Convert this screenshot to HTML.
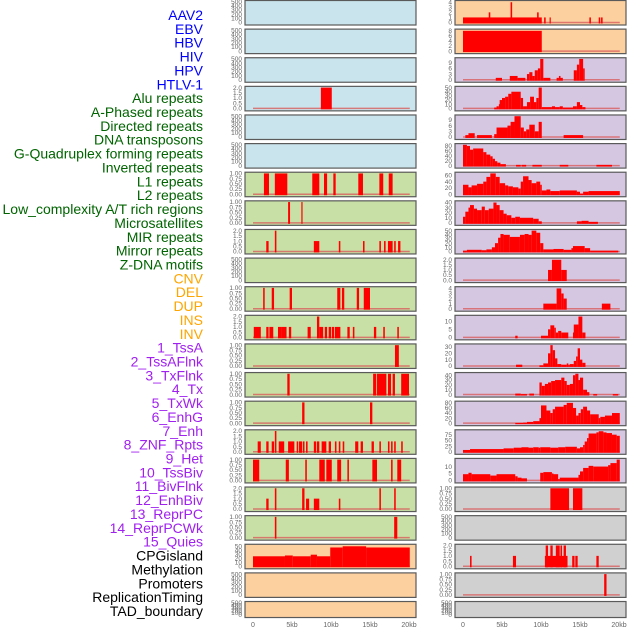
<!DOCTYPE html>
<html><head><meta charset="utf-8"><style>
html,body{margin:0;padding:0;background:#fff;width:630px;height:630px;overflow:hidden}
svg{display:block}
</style></head><body>
<svg id="chart" width="630" height="630" viewBox="0 0 630 630" xmlns="http://www.w3.org/2000/svg" font-family="Liberation Sans, sans-serif">
<g id="labels"></g>
<g id="panels"></g>
</svg>
<script>
// ---------- data ----------
const labelNames = ["AAV2","EBV","HBV","HIV","HPV","HTLV-1","Alu repeats","A-Phased repeats","Directed repeats","DNA transposons","G-Quadruplex forming repeats","Inverted repeats","L1 repeats","L2 repeats","Low_complexity A/T rich regions","Microsatellites","MIR repeats","Mirror repeats","Z-DNA motifs","CNV","DEL","DUP","INS","INV","1_TssA","2_TssAFlnk","3_TxFlnk","4_Tx","5_TxWk","6_EnhG","7_Enh","8_ZNF_Rpts","9_Het","10_TssBiv","11_BivFlnk","12_EnhBiv","13_ReprPC","14_ReprPCWk","15_Quies","CPGisland","Methylation","Promoters","ReplicationTiming","TAD_boundary"];
const labelGroups = [6,13,5,15,5];
const groupColors = ["#0000ff","#006400","#ffa500","#a020f0","#000000"];
const xTicks = [0,5,10,15,20];
const xTickLabels = ["0","5kb","10kb","15kb","20kb"];
const ticksEmpty = [0,100,200,300,400,500];
const ticksBin = [0,0.25,0.5,0.75,1];
const ticksTwo = [0,0.5,1,1.5,2];

// segments: [startKb, endKb, value]
const hiv = [[8.7,10.1,2]];
const alu = [[1.4,2.05,1],[2.8,4.4,1],[7.6,8.5,1],[9.1,9.5,1],[10.3,10.6,1],[13.5,14.1,1],[16.2,16.7,1],[17.4,17.9,1]];
const aphased = [[4.5,4.75,1],[6.2,6.35,1]];
const directed = [[1.7,2.0,1],[2.8,3.0,2],[7.8,8.5,1],[11.0,11.2,1],[14.1,14.3,1],[16.2,16.4,1],[16.8,17.0,1],[17.3,17.9,1],[18.1,18.3,1],[18.6,18.9,1]];
const gquad = [[1.3,1.5,1],[2.4,2.7,1],[4.7,5.0,1],[10.8,11.2,1],[11.4,11.7,1],[13.3,13.6,1],[14.2,15.0,1]];
const inverted = [[0.1,1.0,1],[1.7,2.0,1],[2.1,2.6,1],[3.2,3.6,1],[3.6,4.3,1],[4.6,4.9,1],[7.0,7.4,1],[8.2,8.5,2],[8.5,9.0,1],[9.2,9.5,1],[9.7,10.0,1],[10.1,10.4,1],[10.5,11.2,1],[12.1,12.4,1],[12.8,13.0,1],[15.5,15.8,1],[16.7,16.9,1],[18.5,18.7,1]];
const l1 = [[18.2,18.7,1]];
const l2 = [[4.4,4.7,1],[15.4,15.8,1],[15.9,17.1,1],[17.3,17.7,1],[17.9,18.2,1],[19.0,20.0,1]];
const lowcomp = [[6.3,6.6,1],[15.0,15.3,1]];
const microsat = [[0.6,1.0,1],[1.7,2.0,1],[2.4,2.7,1],[2.8,3.0,2],[3.3,4.0,1],[4.5,5.3,1],[5.6,5.8,1],[5.9,6.3,1],[6.4,6.6,1],[6.8,7.0,1],[7.8,8.1,1],[8.2,8.5,1],[8.8,9.4,1],[9.7,10.0,1],[10.5,10.7,1],[11.0,11.2,1],[11.5,11.7,1],[13.1,13.5,1],[13.8,14.1,1],[15.2,15.5,1],[16.2,16.4,1],[17.3,17.5,1],[17.7,17.9,1],[18.1,18.3,1],[19.0,19.2,1]];
const mir = [[0,0.8,1],[4.2,4.6,1],[6.7,6.9,1],[8.5,9.2,1],[9.4,10.1,1],[10.8,11.3,1],[12.1,12.3,1],[15.3,15.9,1],[17.7,17.9,1],[18.5,19.0,1]];
const mirror = [[1.7,2.0,1],[2.8,3.0,2],[6.3,6.6,2],[6.8,7.2,1],[7.8,8.5,1],[11.0,11.2,1],[16.2,16.4,2],[18.1,18.3,2]];
const zdna = [[2.8,3.0,1],[18.1,18.5,1]];
const cnv = [[0,4.1,25],[4.1,5.1,27],[5.1,7.4,25],[7.4,8.2,29],[8.2,9.9,25],[9.9,11.5,47],[11.5,14.5,50],[14.5,20.1,47]];
const ins = [[0,10.1,1],[3.3,3.5,2],[6.1,6.3,4],[9.5,9.7,2],[10.4,10.6,1],[11.1,11.2,1],[16.2,16.4,1],[17.4,17.6,1],[17.7,17.9,1]];
const inv = [[0,10.1,8]];
const tssA = [[4.2,5.0,1],[6.0,7.0,2],[7.0,8.0,1],[8.2,8.5,3],[8.5,8.9,4],[8.9,9.2,2],[9.2,9.6,5],[9.6,9.9,6],[9.9,10.3,11],[10.3,11.2,1],[12.0,12.3,1],[12.3,12.5,2],[12.5,12.8,1],[14.2,14.6,5],[14.6,14.9,8],[14.9,15.4,11],[15.4,15.6,6]];
const tssAFlnk = [[4.0,4.3,2],[4.3,4.6,5],[4.6,4.7,10],[4.7,5.0,20],[5.0,5.4,25],[5.4,5.8,28],[5.8,6.2,35],[6.2,7.4,40],[7.4,7.7,25],[7.7,8.2,5],[8.2,8.6,15],[8.6,9.1,28],[9.1,9.4,15],[9.4,9.7,25],[9.7,10.1,50],[10.1,11.4,3],[11.4,11.8,5],[11.8,12.4,3],[12.4,12.8,5],[12.8,14.1,2],[14.1,14.6,5],[14.6,15.0,15],[15.0,15.3,8],[15.3,15.7,3]];
const txFlnk = [[0.3,0.7,1],[0.7,1.5,2],[1.8,3.7,1],[4.0,4.3,1.5],[4.3,5.7,5],[5.7,6.1,6],[6.1,6.6,8],[6.6,7.4,11],[7.4,7.8,5],[7.8,8.1,3],[8.1,8.5,4],[8.5,9.2,6.5],[9.2,9.7,3],[9.7,10.1,8],[12.9,15.4,1]];
const tx = [[0,0.5,85],[0.5,0.9,80],[0.9,1.3,65],[1.3,2.6,70],[2.6,3.0,55],[3.0,3.5,45],[3.5,3.8,38],[3.8,4.1,28],[4.1,4.4,18],[4.4,4.8,12],[4.8,5.5,6],[6.8,7.4,3],[7.5,8.1,3],[8.9,10.1,3],[12.4,13.5,3],[17.1,19.1,3]];
const txWk = [[0,0.7,30],[0.7,1.1,22],[1.1,1.8,28],[1.8,2.6,33],[2.6,3.0,40],[3.0,3.5,55],[3.5,4.2,66],[4.2,4.7,55],[4.7,5.4,35],[5.4,5.8,28],[5.8,6.4,25],[6.4,7.1,22],[7.1,7.4,18],[7.4,7.7,40],[7.7,8.4,57],[8.4,8.8,45],[8.8,9.4,35],[9.4,9.9,40],[9.9,10.1,30],[10.1,10.7,12],[10.7,11.2,15],[11.2,12.4,10],[12.4,14.6,12],[14.6,15.0,8],[15.0,15.4,2],[15.4,16.1,8],[16.1,20.1,10]];
const enhG = [[0,0.3,12],[0.3,0.7,22],[0.7,0.9,30],[0.9,1.4,35],[1.4,1.8,28],[1.8,2.4,25],[2.4,2.8,32],[2.8,3.3,25],[3.3,3.9,28],[3.9,4.3,40],[4.3,4.7,35],[4.7,5.2,25],[5.2,5.6,18],[5.6,6.2,15],[6.2,6.7,10],[6.7,7.3,12],[7.3,9.0,10],[9.0,9.7,8],[9.7,10.1,3],[14.6,15.2,3],[15.2,16.1,4],[16.1,17.3,2]];
const enh = [[0,0.5,2],[0.5,2.4,4],[2.4,3.0,3],[3.0,3.7,5],[3.7,4.1,10],[4.1,4.5,20],[4.5,4.8,33],[4.8,5.2,42],[5.2,6.0,40],[6.0,7.3,35],[7.3,7.9,40],[7.9,8.4,42],[8.4,8.8,40],[8.8,9.4,50],[9.4,9.9,45],[9.9,10.3,20],[10.3,11.6,5],[11.6,12.9,6],[12.9,13.9,4],[13.9,14.1,8],[14.1,15.6,13],[15.6,16.3,8],[16.3,19.9,2]];
const znf = [[10.9,11.4,1],[11.4,12.6,2],[12.6,13.3,1]];
const het = [[10.3,12.0,1],[12.0,12.6,4],[12.6,12.9,3],[12.9,13.3,2],[17.8,18.9,1]];
const tssBiv = [[6.7,7.0,1],[10.0,10.9,1],[10.9,11.2,5],[11.2,11.7,7.5],[11.7,11.9,6],[11.9,12.2,3],[12.2,12.6,4],[12.6,13.5,3],[14.1,14.2,3],[14.2,14.8,8],[14.8,15.3,13],[15.3,15.7,3]];
const bivFlnk = [[6.8,7.6,2],[9.8,10.3,1],[10.3,10.9,4],[10.9,11.2,20],[11.2,11.5,33],[11.5,11.8,25],[11.8,12.1,12],[12.1,12.6,3],[12.6,13.3,2],[13.3,13.5,4],[13.5,13.7,2],[13.7,14.2,3],[14.2,14.5,8],[14.5,14.7,15],[14.7,15.0,28],[15.0,15.3,10],[15.3,15.7,5]];
const enhBiv = [[6.7,7.4,2],[7.4,8.2,1],[8.5,9.1,2],[9.8,10.1,25],[10.1,10.5,18],[10.5,10.9,22],[10.9,11.3,25],[11.3,11.8,28],[11.8,12.6,30],[12.6,13.0,35],[13.0,13.3,28],[13.3,13.7,20],[13.7,14.1,22],[14.1,14.4,40],[14.4,14.8,43],[14.8,15.0,30],[15.0,15.4,35],[15.4,15.9,10],[15.9,16.2,5],[16.7,17.2,1],[19.2,19.9,1]];
const reprPC = [[6.7,7.7,1],[7.7,8.2,2],[8.2,9.0,5],[9.0,9.8,8],[9.8,10.0,20],[10.0,10.7,70],[10.7,11.2,50],[11.2,11.5,40],[11.5,11.8,55],[11.8,12.9,65],[12.9,13.3,72],[13.3,14.1,80],[14.1,14.5,60],[14.5,14.8,30],[14.8,15.1,40],[15.1,15.4,55],[15.4,15.9,65],[15.9,16.3,50],[16.3,17.4,35],[17.4,17.6,20],[17.6,18.2,25],[18.2,19.1,30],[19.1,20.1,40]];
const reprPCWk = [[0,0.9,8],[0.9,5.2,12],[5.2,6.5,15],[6.5,7.5,18],[7.5,8.4,20],[8.4,9.0,18],[9.0,9.7,20],[9.7,9.9,18],[9.9,11.2,20],[11.2,12.2,18],[12.2,13.1,20],[13.1,14.6,22],[14.6,15.0,15],[15.0,15.4,20],[15.4,15.6,30],[15.6,15.9,45],[15.9,16.1,60],[16.1,17.1,80],[17.1,17.4,85],[17.4,18.0,90],[18.0,18.4,85],[18.4,19.1,82],[19.1,19.7,75],[19.7,20.1,70]];
const quies = [[0,0.7,4.5],[0.7,1.1,5.5],[1.1,3.5,4.5],[3.5,4.3,3.5],[4.3,6.7,4.5],[6.7,7.0,3],[7.0,7.5,2],[7.5,8.2,1.5],[9.9,10.3,5.5],[10.3,11.4,6],[11.4,11.6,5],[11.6,12.2,4.5],[12.2,12.4,1],[12.4,14.8,2],[14.8,15.0,4],[15.0,15.4,6.5],[15.4,16.1,9],[16.1,16.7,10.5],[16.7,18.6,10],[18.6,18.9,11],[18.9,19.7,12.5],[19.7,20.1,15]];
const cpg = [[11.2,13.6,1],[14.1,15.3,1]];
const promoters = [[0.9,1.1,1],[6.4,6.8,1],[10.5,13.4,1],[10.6,10.9,2],[11.2,11.5,2],[11.9,12.4,2],[12.5,12.7,2],[12.9,13.2,2],[14.0,14.3,1],[14.4,14.7,1],[17.1,17.4,1]];
const replication = [[18.1,18.4,1]];

// panel definitions: [name, column, row, bgKey, ymax, ticks, segments]
const panelDefs = [
 ["AAV2",0,0,"blue",500,ticksEmpty,null],["EBV",0,1,"blue",500,ticksEmpty,null],["HBV",0,2,"blue",500,ticksEmpty,null],
 ["HIV",0,3,"blue",2,ticksTwo,hiv],["HPV",0,4,"blue",500,ticksEmpty,null],["HTLV-1",0,5,"blue",500,ticksEmpty,null],
 ["Alu",0,6,"green",1,ticksBin,alu],["A-Phased",0,7,"green",1,ticksBin,aphased],["Directed",0,8,"green",2,ticksTwo,directed],
 ["DNA-transposons",0,9,"green",500,ticksEmpty,null],["G-Quadruplex",0,10,"green",1,ticksBin,gquad],["Inverted",0,11,"green",2,ticksTwo,inverted],
 ["L1",0,12,"green",1,ticksBin,l1],["L2",0,13,"green",1,ticksBin,l2],["Low-complexity",0,14,"green",1,ticksBin,lowcomp],
 ["Microsatellites",0,15,"green",2,ticksTwo,microsat],["MIR",0,16,"green",1,ticksBin,mir],["Mirror",0,17,"green",2,ticksTwo,mirror],
 ["Z-DNA",0,18,"green",1,ticksBin,zdna],["CNV",0,19,"orange",52,[0,10,20,30,40,50],cnv],["DEL",0,20,"orange",500,ticksEmpty,null],["DUP",0,21,"orange",500,ticksEmpty,null],
 ["INS",1,0,"orange",4.1,[0,1,2,3,4],ins],["INV",1,1,"orange",8.2,[0,2,4,6,8],inv],
 ["1-TssA",1,2,"purple",11,[0,3,6,9],tssA],["2-TssAFlnk",1,3,"purple",50,[0,10,20,30,40,50],tssAFlnk],["3-TxFlnk",1,4,"purple",11,[0,3,6,9],txFlnk],
 ["4-Tx",1,5,"purple",85,[0,20,40,60,80],tx],["5-TxWk",1,6,"purple",66,[0,20,40,60],txWk],["6-EnhG",1,7,"purple",41,[0,10,20,30,40],enhG],
 ["7-Enh",1,8,"purple",50,[0,10,20,30,40,50],enh],["8-ZNF-Rpts",1,9,"purple",2.05,ticksTwo,znf],["9-Het",1,10,"purple",4.1,[0,1,2,3,4],het],
 ["10-TssBiv",1,11,"purple",13,[0,5,10],tssBiv],["11-BivFlnk",1,12,"purple",33,[0,10,20,30],bivFlnk],["12-EnhBiv",1,13,"purple",43,[0,10,20,30,40],enhBiv],
 ["13-ReprPC",1,14,"purple",82,[0,20,40,60,80],reprPC],["14-ReprPCWk",1,15,"purple",91,[0,25,50,75],reprPCWk],["15-Quies",1,16,"purple",15,[0,5,10],quies],
 ["CPGisland",1,17,"grey",1,ticksBin,cpg],["Methylation",1,18,"grey",500,ticksEmpty,null],["Promoters",1,19,"grey",2,ticksTwo,promoters],
 ["ReplicationTiming",1,20,"grey",1,ticksBin,replication],["TAD-boundary",1,21,"grey",500,ticksEmpty,null]
];

// ---------- rendering ----------
const NS = "http://www.w3.org/2000/svg";
const bgColors = {blue:"#c9e4ec",green:"#c8e0a5",orange:"#fdd09f",purple:"#d5c7e2",grey:"#d0d0d0"};
const colLeft = [245,455];
const panelW = 171;
const rowStep = 28.62;
function xScale(col, kb){ return colLeft[col] + 8 + kb*7.8; }
function rowTop(r){ return r*rowStep + 0.5; }
function rowH(r){ return r===21 ? 16 : 24.5; }
function yScale(r, ymax, v){ const t=rowTop(r), h=rowH(r); const y0=t+h-2.5, y1=t+1.2; return y0-(v/ymax)*(y0-y1); }
function mk(tag, attrs, parent){ const e=document.createElementNS(NS,tag); for(const k in attrs) e.setAttribute(k,attrs[k]); parent.appendChild(e); return e; }

const labelsG = document.getElementById('labels');
let li = 0;
labelGroups.forEach((n,gi)=>{
  for(let k=0;k<n;k++){
    const t = mk('text',{x:203,y:(15+li*13.86+5).toFixed(1),'text-anchor':'end','font-size':'14',fill:groupColors[gi]},labelsG);
    t.textContent = labelNames[li];
    
    
    li++;
  }
});

const panelsG = document.getElementById('panels');
panelDefs.forEach(d=>{
  const [name,col,row,bg,ymax,ticks,segs] = d;
  const g = mk('g',{},panelsG);
  
  
  const top=rowTop(row), h=rowH(row), left=colLeft[col];
  const rect = mk('rect',{x:left,y:top,width:panelW,height:h,fill:bgColors[bg],stroke:'none'},g);
  
  
  if(segs){
    const base = mk('line',{x1:xScale(col,0),x2:xScale(col,20.1),y1:yScale(row,ymax,0),y2:yScale(row,ymax,0),stroke:'#d96060','stroke-width':1.5,opacity:0.8},g);
    
    
    segs.forEach(s=>{
      const x1=xScale(col,s[0]), x2=xScale(col,s[1]);
      const yv=yScale(row,ymax,s[2]), y0=yScale(row,ymax,0)+1;
      const b = mk('rect',{x:x1.toFixed(2),y:yv.toFixed(2),width:Math.max(1.2,x2-x1).toFixed(2),height:(y0-yv).toFixed(2),fill:'#ff0000'},g);
      
      
    });
  }
  mk('rect',{x:left,y:top,width:panelW,height:h,fill:'none',stroke:'#5a5a5a','stroke-width':1.2},g);
  ticks.forEach(tv=>{
    const y = yScale(row,ymax,tv);
    if(y < top-3) return;
    const t = mk('text',{x:left-3,y:(y+2.2).toFixed(1),'text-anchor':'end','font-size':'6.5',fill:'#666'},g);
    t.textContent = (ticks===ticksBin) ? tv.toFixed(2) : (ticks===ticksTwo ? tv.toFixed(1) : String(tv));
    
    
  });
});

[0,1].forEach(col=>{
  xTicks.forEach((v,i)=>{
    const t = mk('text',{x:xScale(col,v).toFixed(1),y:627,'text-anchor':'middle','font-size':'7',fill:'#666'},panelsG);
    t.textContent = xTickLabels[i];
    
    
  });
});
</script>
</body></html>
